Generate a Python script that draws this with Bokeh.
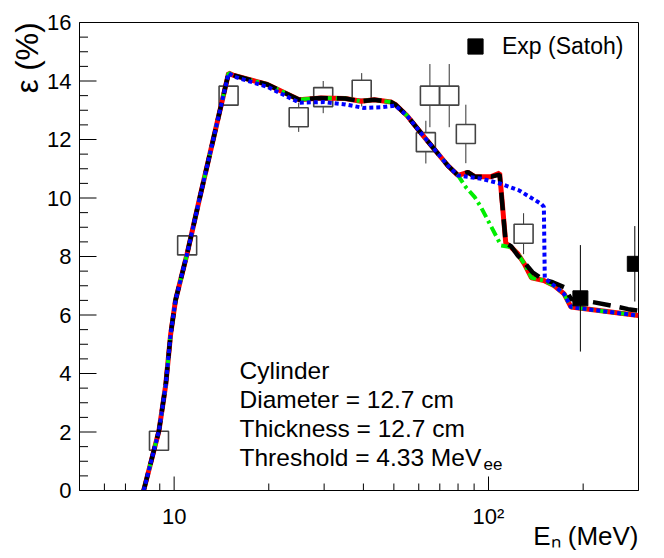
import numpy as np
from bokeh.plotting import figure
from bokeh.models import FixedTicker, Label, Legend, LegendItem, Range1d, Title
from bokeh.embed import file_html
from bokeh.resources import INLINE

FONT = "Liberation Sans"

# ---- simulated efficiency curves (E in MeV, efficiency in %) ----
e_low = [8.0, 8.95, 9.4, 9.75, 10.1, 11.0, 12.0, 14.9]
y_low = [0.0, 2.05, 3.6, 5.35, 6.5, 8.1, 9.9, 14.27]

e_mid = [15.5, 19.8, 25.0, 29.3, 35.0, 39.3, 43.3, 48.9, 50.5, 55.0, 62.5, 74.2, 80.0]
y_mid = [14.19, 13.88, 13.36, 13.42, 13.40, 13.31, 13.36, 13.28, 13.2, 12.82, 12.08, 11.11, 10.77]

e_red_hi = [86.0, 90.4, 102.0, 108.5, 113.5, 118.0, 124.0, 130.0, 137.0, 150.0, 162.0, 174.0, 183.0, 300.0]
y_red_hi = [10.88, 10.73, 10.73, 10.85, 8.45, 8.32, 8.09, 7.75, 7.27, 7.18, 7.0, 6.72, 6.27, 5.98]

e_green_hi = [84.7, 90.4, 94.6, 109.6, 118.0, 124.0, 130.0, 137.0, 150.0, 162.0, 174.0, 183.0, 300.0]
y_green_hi = [10.37, 10.03, 9.69, 8.38, 8.32, 8.09, 7.75, 7.27, 7.18, 7.0, 6.72, 6.27, 5.98]

e_blue_mid = [15.5, 19.8, 25.0, 30.0, 35.0, 40.0, 45.5, 50.5, 55.0, 62.5, 74.2, 80.0]
y_blue_mid = [14.15, 13.8, 13.26, 13.28, 13.2, 13.08, 13.1, 13.16, 12.82, 12.08, 11.11, 10.77]
e_blue_hi = [95.0, 110.0, 125.0, 147.0, 150.0, 151.0, 162.0, 174.0, 183.0, 300.0]
y_blue_hi = [10.66, 10.48, 10.26, 9.8, 9.7, 7.25, 7.0, 6.72, 6.27, 5.98]

e_black_hi = [86.0, 90.4, 102.0, 108.5, 113.5, 118.0, 124.0, 130.0, 138.0, 150.0, 160.0, 174.0, 183.0, 215.0, 254.0, 278.0, 300.0]
y_black_hi = [10.88, 10.73, 10.73, 10.8, 8.45, 8.35, 8.03, 7.8, 7.46, 7.2, 7.12, 6.95, 6.55, 6.44, 6.29, 6.2, 6.15]

# ---- experimental data ----
exp_open_e = [8.95, 11.0, 14.9, 24.9, 29.8, 39.5, 63.2, 65.1, 75.0, 84.7, 129.3]
exp_open_y = [1.7, 8.38, 13.5, 12.76, 13.45, 13.7, 11.91, 13.5, 13.5, 12.19, 8.78]
exp_open_err = [0.2, 0.2, 0.3, 0.5, 0.55, 0.57, 0.73, 1.08, 1.08, 1.0, 0.7]

satoh_e = [196.0, 292.0]
satoh_y = [6.57, 7.75]
satoh_err = [1.82, 1.29]

# ---- tick values ----
x_major = [10, 100]
x_minor = [6, 7, 8, 9, 20, 30, 40, 50, 60, 70, 80, 90, 200]
x_labels = {10: "10", 100: "10\u00b2"}
y_major = [0, 2, 4, 6, 8, 10, 12, 14, 16]
y_minor = [v / 2 for v in range(0, 33) if v % 4 != 0]

XMIN, XMAX, YMIN, YMAX = 5.0, 300.0, 0.0, 16.0
FW, FH = 559, 468

e_red = e_low + e_mid + e_red_hi
y_red = y_low + y_mid + y_red_hi
e_green = e_low + e_mid + e_green_hi
y_green = y_low + y_mid + y_green_hi
e_blue = e_low + e_blue_mid + e_blue_hi
y_blue = y_low + y_blue_mid + y_blue_hi
e_black = e_low + e_mid + e_black_hi
y_black = y_low + y_mid + y_black_hi

p = figure(frame_width=FW, frame_height=FH, x_axis_type="log",
           x_range=Range1d(XMIN, XMAX), y_range=Range1d(YMIN, YMAX),
           output_backend="svg", toolbar_location=None,
           min_border_left=79, min_border_top=22, min_border_right=24, min_border_bottom=66)
p.xgrid.visible = False
p.ygrid.visible = False
p.outline_line_color = "black"
p.outline_line_width = 1
p.background_fill_color = "white"
p.border_fill_color = "white"

for ax in (p.xaxis[0], p.yaxis[0]):
    ax.axis_line_color = "black"
    ax.major_tick_line_color = None
    ax.minor_tick_line_color = None
    ax.major_tick_in = 0
    ax.major_tick_out = 0
    ax.minor_tick_in = 0
    ax.minor_tick_out = 0
    ax.major_label_text_font = FONT
    ax.major_label_text_font_size = "22px"
    ax.major_label_text_color = "black"

p.xaxis.ticker = FixedTicker(ticks=x_major, minor_ticks=x_minor)
p.xaxis.major_label_overrides = x_labels
p.xaxis.major_label_standoff = 13
p.yaxis.ticker = FixedTicker(ticks=y_major, minor_ticks=y_minor)
p.yaxis.major_label_standoff = 8

# axis titles placed as side titles (outside the frame)
title_props = Title.properties()
def side_title(text, side, size, valign, standoff):
    t = Title(text=text, align="right", text_font=FONT, text_font_size=size,
              text_font_style="normal", text_color="black", vertical_align=valign)
    if "standoff" in title_props:
        t.standoff = standoff
    if "offset" in title_props:
        t.offset = 0
    p.add_layout(t, side)

side_title("E\u2099 (MeV)", "below", "26px", "top", -22)
side_title("\u03b5 (%)", "left", "31px", "bottom", 0)

# inward tick marks (lengths in pixels converted to data space)
decade_px = FW / np.log10(XMAX / XMIN)
unit_px = FH / (YMAX - YMIN)
def xlen(px):
    return XMIN * 10 ** (px / decade_px)
p.segment(x0=[XMIN] * len(y_major), y0=y_major, x1=[xlen(17)] * len(y_major), y1=y_major,
          line_color="black", line_width=1)
p.segment(x0=[XMIN] * len(y_minor), y0=y_minor, x1=[xlen(8.5)] * len(y_minor), y1=y_minor,
          line_color="black", line_width=1)
p.segment(x0=x_major, y0=[YMIN] * len(x_major), x1=x_major, y1=[14 / unit_px] * len(x_major),
          line_color="black", line_width=1)
p.segment(x0=x_minor, y0=[YMIN] * len(x_minor), x1=x_minor, y1=[7 / unit_px] * len(x_minor),
          line_color="black", line_width=1)

# experimental (open squares) with error bars
p.segment(x0=exp_open_e, y0=[y - e for y, e in zip(exp_open_y, exp_open_err)],
          x1=exp_open_e, y1=[y + e for y, e in zip(exp_open_y, exp_open_err)],
          line_color="#333333", line_width=1)
p.scatter(exp_open_e, exp_open_y, marker="square", size=19,
          fill_color="white", line_color="#444444", line_width=1.6)

# simulation curves
p.line(e_red, y_red, line_color="#ff0000", line_width=5)
p.line(e_green, y_green, line_color="#00ee00", line_width=4, line_dash="10 4 3 4")
p.line(e_black, y_black, line_color="black", line_width=4.5, line_dash="18 9")
p.line(e_blue, y_blue, line_color="#0000ff", line_width=4, line_dash="4 3")

# Satoh data (filled squares)
p.segment(x0=satoh_e, y0=[y - e for y, e in zip(satoh_y, satoh_err)],
          x1=satoh_e, y1=[y + e for y, e in zip(satoh_y, satoh_err)],
          line_color="black", line_width=1)
sat = p.scatter(satoh_e, satoh_y, marker="square", size=15,
                fill_color="black", line_color="black")

legend = Legend(items=[LegendItem(label="Exp (Satoh)", renderers=[sat])],
                location=(377, 425), glyph_width=38, glyph_height=38,
                padding=0, margin=0, spacing=0, label_standoff=8,
                border_line_color=None, background_fill_alpha=0,
                label_text_font=FONT, label_text_font_size="23px",
                label_text_color="black")
p.add_layout(legend)

def lab(text, x, y, size, align="left", angle=0.0, baseline="alphabetic"):
    p.add_layout(Label(text=text, x=x, y=y, x_units="screen", y_units="screen",
                       text_font=FONT, text_font_size=size, text_color="black",
                       text_align=align, text_baseline=baseline, angle=angle))

lab("Cylinder", 160, 120, "24.5px")
lab("Diameter = 12.7 cm", 160, 91, "24.5px")
lab("Thickness = 12.7 cm", 160, 62, "24.5px")
lab("Threshold = 4.33 MeV", 160, 33, "24.5px")
lab("ee", 404, 27, "17px")

open("out.html", "w").write(file_html(p, INLINE))
